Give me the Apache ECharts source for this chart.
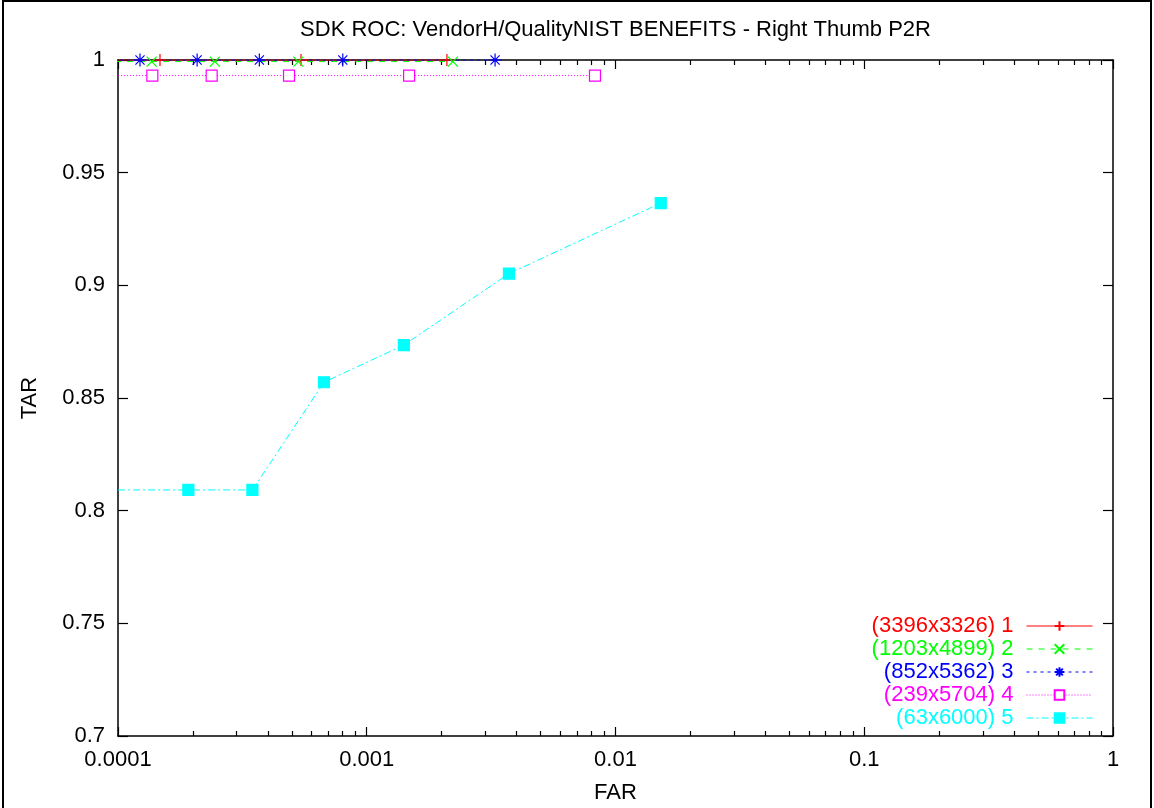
<!DOCTYPE html>
<html>
<head>
<meta charset="utf-8">
<script src="https://cdn.jsdelivr.net/npm/echarts@6/dist/echarts.min.js"></script>
<style>
html,body{margin:0;padding:0;background:#fff;}
#c{width:1154px;height:808px;}
</style>
</head>
<body>
<div id="c"></div>
<script>
const titleText = 'SDK ROC: VendorH/QualityNIST BENEFITS - Right Thumb P2R';
const seriesNames = ['(3396x3326) 1', '(1203x4899) 2', '(852x5362) 3', '(239x5704) 4', '(63x6000) 5'];
const seriesColors = ['#ff0000', '#00ff00', '#0000ff', '#ff00ff', '#00ffff'];

const far1 = [0.00005, 0.0001475, 0.000544, 0.00210];
const tar1 = [1, 1, 1, 1];
const far2 = [0.00005, 0.0001366, 0.000245, 0.000531, 0.00222];
const tar2 = [0.9993, 0.9993, 0.9993, 0.9993, 0.9993];
const far3 = [0.00005, 0.0001226, 0.000208, 0.00037, 0.000801, 0.00328];
const tar3 = [1, 1, 1, 1, 1, 1];
const far4 = [0.00005, 0.0001374, 0.000238, 0.000487, 0.00148, 0.00827];
const tar4 = [0.9931, 0.9931, 0.9931, 0.9931, 0.9931, 0.9931];
const far5 = [0.00005, 0.0001918, 0.000347, 0.000673, 0.00141, 0.00373, 0.0152];
const tar5 = [0.8092, 0.8092, 0.8092, 0.857, 0.8735, 0.9052, 0.9365];

const xTickValues = [0.0001, 0.001, 0.01, 0.1, 1];
const xTickLabels = ['0.0001', '0.001', '0.01', '0.1', '1'];
const xMinorTicks = [];
[0.0001, 0.001, 0.01, 0.1].forEach(d => { for (let k = 2; k <= 9; k++) xMinorTicks.push(+(d * k).toPrecision(3)); });

const FONT = 'Liberation Sans, Arial, Helvetica, sans-serif';
const FS = 22;
const pairs = (xs, ys) => xs.map((x, i) => [x, ys[i]]);

const plusPath = 'path://M5,0L5,10M0,5L10,5';
const crossPath = 'path://M0,0L10,10M10,0L0,10';
const starPath = 'path://M5,0L5,10M0,5L10,5M1.5,1.5L8.5,8.5M8.5,1.5L1.5,8.5';

const styles = [
  {symbol: plusPath, size: 12, type: 'solid', fill: '#ff0000'},
  {symbol: crossPath, size: 10, type: [6, 6], fill: '#00ff00'},
  {symbol: starPath, size: 13, type: [3, 4], fill: '#0000ff'},
  {symbol: 'rect', size: 11, type: [1, 2], fill: '#ffffff'},
  {symbol: 'rect', size: 11, type: [7, 3, 2, 3], fill: '#00ffff'}
];
const allData = [pairs(far1, tar1), pairs(far2, tar2), pairs(far3, tar3), pairs(far4, tar4), pairs(far5, tar5)];

const series = allData.map((d, i) => ({
  name: seriesNames[i],
  type: 'line',
  xAxisIndex: 0,
  yAxisIndex: 0,
  data: d,
  clip: true,
  symbol: styles[i].symbol,
  symbolSize: styles[i].size,
  showAllSymbol: true,
  lineStyle: {color: seriesColors[i], width: 1, type: styles[i].type},
  itemStyle: {color: styles[i].fill, borderColor: seriesColors[i], borderWidth: 1.2},
  emphasis: {disabled: true},
  animation: false
}));

const baseAxisLine = {show: true, lineStyle: {color: '#000', width: 1.5}};

const chart = echarts.init(document.getElementById('c'), null, {renderer: 'canvas'});
chart.setOption({
  animation: false,
  backgroundColor: '#fff',
  grid: {left: 118, right: 41, top: 60, bottom: 72, containLabel: false, outerBoundsMode: 'none'},
  graphic: [
    {type: 'rect', shape: {x: 3, y: 1, width: 1148, height: 830}, style: {fill: 'none', stroke: '#000', lineWidth: 2}, silent: true},
    {type: 'text', x: 615.5, y: 30, style: {text: titleText, font: FS + 'px ' + FONT, fill: '#000', textAlign: 'center', textVerticalAlign: 'middle'}, silent: true}
  ],
  legend: {
    orient: 'vertical',
    right: 56,
    top: 610,
    align: 'right',
    itemWidth: 66,
    itemHeight: 12,
    itemGap: 1,
    lineStyle: {width: 1},
    textStyle: {fontFamily: FONT, fontSize: FS, padding: [0, 8, 0, 0]},
    data: seriesNames.map((n, i) => ({name: n, textStyle: {color: seriesColors[i]}})),
    selectedMode: false
  },
  xAxis: [
    {
      type: 'log', logBase: 10, min: 0.0001, max: 1, position: 'bottom',
      name: 'FAR', nameLocation: 'middle', nameGap: 46,
      nameTextStyle: {fontFamily: FONT, fontSize: FS, color: '#000'},
      axisLine: baseAxisLine,
      axisTick: {show: true, inside: true, length: 9, customValues: xTickValues, lineStyle: {color: '#000', width: 1.2}},
      axisLabel: {show: true, customValues: xTickValues, margin: 13, fontFamily: FONT, fontSize: FS, color: '#000',
        formatter: v => { const i = xTickValues.findIndex(t => Math.abs(Math.log10(t) - Math.log10(v)) < 1e-6); return i >= 0 ? xTickLabels[i] : ''; }},
      splitLine: {show: false}
    },
    {
      type: 'log', logBase: 10, min: 0.0001, max: 1, position: 'bottom',
      axisLine: {show: false},
      axisTick: {show: true, inside: true, length: 5, customValues: xMinorTicks, lineStyle: {color: '#000', width: 1.2}},
      axisLabel: {show: false},
      splitLine: {show: false}
    },
    {
      type: 'log', logBase: 10, min: 0.0001, max: 1, position: 'top',
      axisLine: baseAxisLine,
      axisTick: {show: true, inside: true, length: 9, customValues: xTickValues, lineStyle: {color: '#000', width: 1.2}},
      axisLabel: {show: false},
      splitLine: {show: false}
    },
    {
      type: 'log', logBase: 10, min: 0.0001, max: 1, position: 'top',
      axisLine: {show: false},
      axisTick: {show: true, inside: true, length: 5, customValues: xMinorTicks, lineStyle: {color: '#000', width: 1.2}},
      axisLabel: {show: false},
      splitLine: {show: false}
    }
  ],
  yAxis: [
    {
      type: 'value', min: 0.7, max: 1, interval: 0.05, position: 'left',
      name: 'TAR', nameLocation: 'middle', nameGap: 77, nameRotate: 90,
      nameTextStyle: {fontFamily: FONT, fontSize: FS, color: '#000'},
      axisLine: baseAxisLine,
      axisTick: {show: true, inside: true, length: 10, lineStyle: {color: '#000', width: 1.2}},
      axisLabel: {show: true, margin: 13, fontFamily: FONT, fontSize: FS, color: '#000'},
      splitLine: {show: false}
    },
    {
      type: 'value', min: 0.7, max: 1, interval: 0.05, position: 'right',
      axisLine: baseAxisLine,
      axisTick: {show: true, inside: true, length: 10, lineStyle: {color: '#000', width: 1.2}},
      axisLabel: {show: false},
      splitLine: {show: false}
    }
  ],
  series: series
});
</script>
</body>
</html>
